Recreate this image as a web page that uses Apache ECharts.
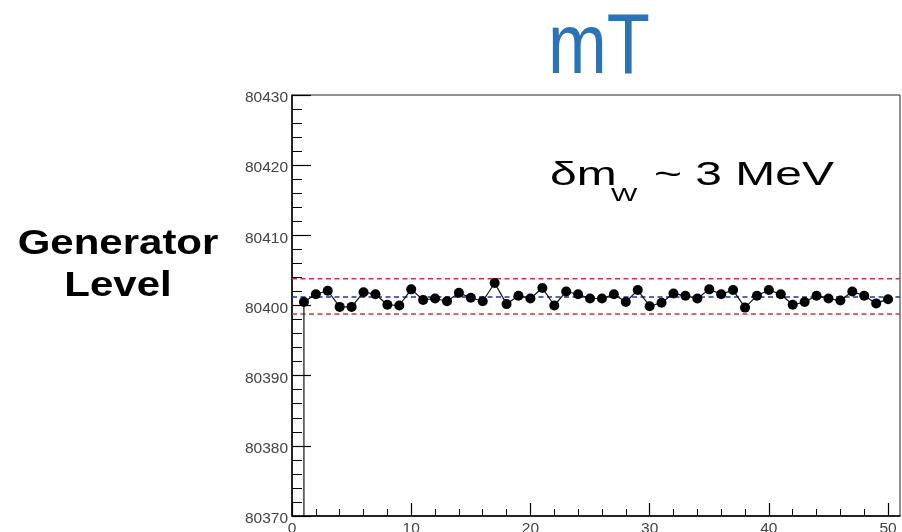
<!DOCTYPE html>
<html>
<head>
<meta charset="utf-8">
<script src="https://cdn.jsdelivr.net/npm/echarts@6/dist/echarts.min.js"></script>
<style>
  html, body { margin: 0; padding: 0; background: #ffffff; }
  #chart { width: 902px; height: 532px; }
</style>
</head>
<body>
<div id="chart"></div>
<script>
// Pseudo-experiment index and the fitted W mass (MeV) from the mT template fit
const runNumber = [
  1, 2, 3, 4, 5, 6, 7, 8, 9, 10,
  11, 12, 13, 14, 15, 16, 17, 18, 19, 20,
  21, 22, 23, 24, 25, 26, 27, 28, 29, 30,
  31, 32, 33, 34, 35, 36, 37, 38, 39, 40,
  41, 42, 43, 44, 45, 46, 47, 48, 49, 50
];
const fittedMass = [
  80400.5, 80401.6, 80402.1, 80399.8, 80399.8, 80401.9, 80401.6, 80400.1, 80400.0, 80402.3,
  80400.8, 80401.0, 80400.6, 80401.8, 80401.1, 80400.6, 80403.2, 80400.2, 80401.4, 80401.0,
  80402.5, 80400.0, 80402.0, 80401.6, 80401.0, 80401.0, 80401.6, 80400.5, 80402.2, 80399.9,
  80400.4, 80401.7, 80401.4, 80401.0, 80402.3, 80401.6, 80402.2, 80399.7, 80401.4, 80402.2,
  80401.6, 80400.1, 80400.5, 80401.4, 80401.0, 80400.7, 80402.0, 80401.4, 80400.3, 80400.9
];

// Reference levels: mean of the fits and the +/- band around it
const meanMass = 80401.2;
const bandUpper = 80403.8;
const bandLower = 80398.8;

// Axis ranges and tick positions
const xRange = [0, 51];
const yRange = [80370, 80430];
const xMajorTicks = [0, 10, 20, 30, 40, 50];
const xMinorTicks = [2, 4, 6, 8, 12, 14, 16, 18, 22, 24, 26, 28, 32, 34, 36, 38, 42, 44, 46, 48];

// Text
const titleText = 'mT';
const levelLines = ['Generator', 'Level'];
const resolutionText = { main: 'δm', sub: 'W', rest: '~ 3 MeV' };

const chart = echarts.init(document.getElementById('chart'), null, { renderer: 'canvas' });

const labelStyle = { fontFamily: '"Liberation Sans", Arial, sans-serif', fontSize: 15.5, color: '#444' };
const plainNumber = v => String(v);

function hLine(value, color) {
  return {
    type: 'line',
    xAxisIndex: 0, yAxisIndex: 0,
    data: [[xRange[0], value], [xRange[1], value]],
    symbol: 'none',
    silent: true,
    z: 2,
    lineStyle: { color: color, width: 1.5, type: [5, 3.5] }
  };
}

const option = {
  animation: false,
  backgroundColor: '#ffffff',
  grid: {
    left: 292, right: 2, top: 95, bottom: 16,
    containLabel: false,
    outerBoundsMode: 'none',
    show: true, borderColor: '#222', borderWidth: 1, backgroundColor: 'transparent'
  },
  xAxis: [
    {
      type: 'value', min: xRange[0], max: xRange[1], position: 'bottom',
      axisLine: { show: true, onZero: false, lineStyle: { color: '#000', width: 1.5 } },
      axisTick: { show: true, inside: true, length: 13, customValues: xMajorTicks, lineStyle: { color: '#000', width: 1.2 } },
      axisLabel: Object.assign({ show: true, margin: 5, customValues: xMajorTicks, formatter: plainNumber }, labelStyle),
      splitLine: { show: false }
    },
    {
      type: 'value', min: xRange[0], max: xRange[1], position: 'bottom',
      axisLine: { show: false, onZero: false },
      axisTick: { show: true, inside: true, length: 7, customValues: xMinorTicks, lineStyle: { color: '#000', width: 1 } },
      axisLabel: { show: false },
      splitLine: { show: false }
    }
  ],
  yAxis: {
    type: 'value', min: yRange[0], max: yRange[1], interval: 10,
    axisLine: { show: true, onZero: false, lineStyle: { color: '#000', width: 1.5 } },
    axisTick: { show: true, inside: true, length: 19, lineStyle: { color: '#000', width: 1.2 } },
    minorTick: { show: true, splitNumber: 5, length: 10, lineStyle: { color: '#000', width: 1 } },
    axisLabel: Object.assign({ margin: 4, verticalAlign: 'top', lineHeight: 6, formatter: plainNumber }, labelStyle),
    splitLine: { show: false },
    minorSplitLine: { show: false }
  },
  series: [
    hLine(bandUpper, '#c8383c'),
    hLine(bandLower, '#c8383c'),
    hLine(meanMass, '#22339c'),
    {
      // the graph enters from below the frame to its first point
      type: 'line',
      data: [[runNumber[0], yRange[0]], [runNumber[0], fittedMass[0]]],
      symbol: 'none',
      silent: true,
      z: 3,
      lineStyle: { color: '#111', width: 1.2 }
    },
    {
      type: 'line',
      data: runNumber.map((x, i) => [x, fittedMass[i]]),
      symbol: 'circle',
      symbolSize: 10,
      z: 4,
      itemStyle: { color: '#000' },
      lineStyle: { color: '#111', width: 1.2 }
    }
  ],
  graphic: [
    {
      type: 'text', x: 599, y: 50, scaleX: 0.83,
      style: { text: titleText, font: '85px "Liberation Sans", Arial, sans-serif', fill: '#2c73b6', align: 'center', verticalAlign: 'middle' }
    },
    {
      type: 'text', x: 118, y: 244, scaleX: 1.2,
      style: { text: levelLines[0], font: 'bold 35px "Liberation Sans", Arial, sans-serif', fill: '#000', align: 'center', verticalAlign: 'middle' }
    },
    {
      type: 'text', x: 118, y: 286.5, scaleX: 1.2,
      style: { text: levelLines[1], font: 'bold 35px "Liberation Sans", Arial, sans-serif', fill: '#000', align: 'center', verticalAlign: 'middle' }
    },
    {
      type: 'text', x: 550, y: 176, scaleX: 1.41,
      style: { text: resolutionText.main, font: '34px "Liberation Sans", Arial, sans-serif', fill: '#000', align: 'left', verticalAlign: 'middle' }
    },
    {
      type: 'text', x: 611, y: 196.5, scaleX: 1.55,
      style: { text: resolutionText.sub, font: '18px "Liberation Sans", Arial, sans-serif', fill: '#000', align: 'left', verticalAlign: 'middle' }
    },
    {
      type: 'text', x: 654, y: 176, scaleX: 1.41,
      style: { text: resolutionText.rest, font: '34px "Liberation Sans", Arial, sans-serif', fill: '#000', align: 'left', verticalAlign: 'middle' }
    }
  ]
};

chart.setOption(option);
</script>
</body>
</html>
